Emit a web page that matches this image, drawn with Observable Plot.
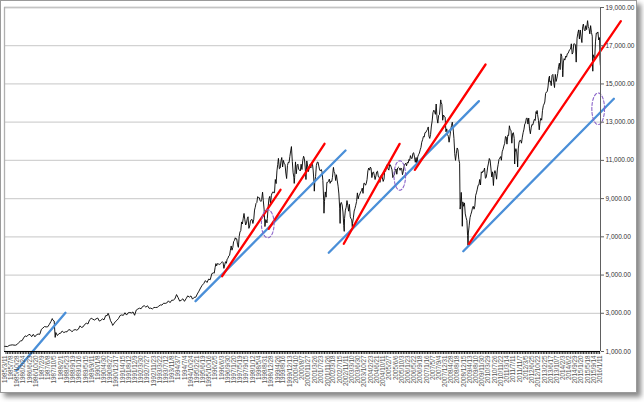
<!DOCTYPE html>
<html><head><meta charset="utf-8">
<script src="https://cdn.jsdelivr.net/npm/d3@7"></script>
<script src="https://cdn.jsdelivr.net/npm/@observablehq/plot@0.6"></script>
<style>
body{margin:0;background:#fff;}
#frame{position:absolute;left:0;top:0;width:635px;height:391px;border:1px solid #9a9a9a;box-shadow:4px 4px 5px #888;background:#fff;}
#chart{position:absolute;left:0;top:0;}
</style></head><body><div id="frame"></div><div id="chart"></div>
<script>
// Month-end closes, starting March 1985
const closes1985to1994 = [
1267,1258,1315,1336,1348,1334,1329,1374,1472,1547,
1571,1709,1819,1784,1877,1893,1775,1898,1768,1878,1914,1896,
2158,2224,2305,2286,2292,2419,2572,2663,2596,1994,1834,1939,
1958,2072,1988,2032,2031,2142,2129,2032,2112,2149,2115,2169,
2342,2258,2293,2419,2480,2440,2661,2737,2693,2645,2706,2753,
2591,2627,2707,2657,2877,2881,2905,2614,2453,2442,2560,2634,
2736,2882,2914,2888,3028,2907,3025,3044,3017,3069,2895,3169,
3224,3267,3236,3359,3397,3319,3394,3257,3272,3226,3305,3301,
3310,3371,3435,3428,3527,3516,3540,3651,3555,3681,3684,3754,
3978,3832,3636,3682,3758,3625,3765,3913,3843,3908,3739,3834];
const closes1995to2004 = [
3843,4011,4158,4321,4465,4556,4709,4611,4789,4756,5075,5117,
5395,5486,5588,5569,5643,5655,5529,5616,5882,6029,6522,6448,
6813,6878,6584,7009,7331,7673,8223,7622,7945,7443,7823,7908,
7907,8546,8800,9063,8900,8952,8883,7539,7843,8592,9117,9181,
9359,9307,9786,10789,10560,10971,10655,10829,10337,10729,10878,11497,
10941,10128,10922,10734,10522,10448,10522,11215,10651,10971,10415,10787,
10887,10495,9879,10735,10912,10502,10523,9950,8848,9075,9852,10021,
9920,10106,10404,9946,9925,9243,8737,8664,7592,8397,8896,8342,
8054,7891,7992,8480,8850,8985,9234,9416,9275,9801,9782,10454,
10488,10583,10358,10226,10188,10435,10140,10174,10080,10027,10428,10783];
const closes2005to2015 = [
10490,10766,10504,10193,10467,10275,10641,10482,10569,10440,10806,10718,
10865,10993,11109,11367,11168,11150,11186,11381,11679,12081,12222,12463,
12622,12269,12354,13063,13628,13409,13212,13358,13896,13930,13372,13265,
12650,12266,12263,12820,12638,11350,11378,11544,10851,9325,8829,8776,
8001,7063,7609,8168,8500,8447,9172,9496,9712,9713,10345,10428,
10067,10325,10857,11009,10137,9774,10466,10015,10788,11118,11006,11578,
11892,12226,12320,12811,12570,12414,12143,11614,10913,11955,12046,12218,
12633,12952,13212,13214,12393,12880,13009,13091,13437,13096,13026,13104,
13861,14054,14579,14840,15116,14910,15500,14810,15130,15546,16086,16577,
15699,16322,16458,16581,16717,16827,16563,17098,17043,17391,17828,17823,
17165,18133,17776,17841,18011,17620,17690,16528,16285,17664,17720,17425];
// Mid-month values (around the 15th), starting January 1996; null = none
const mid1996to2005 = [
5100,5600,5600,5550,5600,5700,5350,5700,5840,6000,6300,6300,
6750,6950,6900,6450,7250,7780,7950,7900,7700,8050,7570,7900,
7700,8400,8750,9100,9050,8850,null,8450,7900,7950,9000,8700,
9300,9300,10000,10450,null,10600,11150,11000,10800,10050,10900,11200,
null,10350,10100,10300,10800,10500,10800,11000,11100,10000,10700,10600,
10600,10800,9900,10150,10900,10700,10450,10400,8920,9350,9850,9900,
9800,9900,10550,10300,10250,9650,8500,8800,8300,7950,8550,8650,
8700,7950,7700,8350,8650,9300,9150,9350,9550,9800,9700,10000,
10600,10650,10100,10400,10000,10400,10150,9850,10250,9900,10550,10700,
10550,10800,10650,10100,10250,10550,10600,10600,10600,10250,10700,10850];
const mid2006to2015 = [
10900,11050,11250,11100,11400,10900,10800,11300,11550,11950,12250,12450,
12550,12750,12150,12800,13500,13550,13950,12950,13400,14050,13100,13300,
12500,12350,11950,12600,13000,12150,11000,11650,11050,8600,8500,8600,
8200,7850,7200,8000,8300,8600,8600,9300,9700,10000,10400,10450,
10600,10100,10650,11100,10600,10400,10300,10300,10550,11050,11200,11450,
11750,12250,11850,12300,12600,11900,12450,11400,11450,11600,12050,11900,
12450,12900,13200,12900,12650,12700,12850,13150,13550,13400,12600,13200,
13600,13950,14500,14600,15300,15150,15450,15100,15500,15300,15900,15750,
16450,16150,16250,16400,16600,16800,17100,16650,17100,null,17650,17350,
17450,18000,17850,18050,18250,17900,18050,17500,16400,17200,17650,17300];
// Intramonth highs / lows
const extremes = [
["1985-03-08",1269],["1987-08-25",2722],["1987-10-19",1739],["1990-07-16",2999],["1990-10-11",2365],
["1998-07-17",9338],["1998-10-08",7731],["1999-05-13",11107],["2000-01-14",11723],["2000-03-07",9796],
["2001-03-22",9389],["2001-09-21",8236],["2002-03-19",10635],["2002-07-23",7702],["2002-10-09",7286],
["2003-03-11",7524],["2007-10-09",14165],["2008-10-10",8451],["2008-11-20",7552],["2009-03-09",6547],
["2010-07-02",9686],["2011-08-08",10810],["2011-10-03",10655],["2012-10-05",13610],["2013-05-28",15410],
["2014-02-03",15373],["2014-10-15",16141],["2015-05-19",18312],["2015-08-25",15666],
["2016-01-08",16346],["2016-01-15",15988]];

const blueLines = [
  ["1985-10-16",6,"1988-05-01",3025],
  ["1995-01-26",3633,"2002-11-02",11518],
  ["2001-12-20",6165,"2009-10-01",14100],
  ["2008-12-09",6249,"2016-09-27",14224]];
const redLines = [
  ["1996-06-13",4941,"1999-06-21",9462],
  ["1998-11-10",7421,"2001-10-01",11869],
  ["2002-10-01",6636,"2005-08-22",11866],
  ["2006-06-06",10507,"2010-02-03",16018],
  ["2009-03-25",6636,"2017-02-06",18286]];
// dashed ellipses: centre date, centre value, half-width (days), half-height (value)
const ellipses = [
  ["1998-10-23",7683,120,733],
  ["2005-08-25",10210,110,770],
  ["2015-12-05",13700,120,827]];

const tickLabels = ["1985/3/11","1985/7/8","1985/10/28","1986/2/24","1986/6/23","1986/10/20","1987/2/9","1987/6/8","1987/10/5","1988/2/1","1988/5/23","1988/9/19","1989/1/16","1989/5/15","1989/9/11","1990/1/8","1990/4/30","1990/8/27","1990/12/17","1991/4/15","1991/8/12","1991/12/9","1992/3/30","1992/7/27","1992/11/23","1993/3/22","1993/7/12","1993/11/8","1994/3/7","1994/7/4","1994/10/24","1995/2/21","1995/6/19","1995/10/16","1996/2/5","1996/6/3","1996/9/30","1997/1/20","1997/5/19","1997/9/15","1998/1/12","1998/5/4","1998/8/31","1998/12/28","1999/4/26","1999/8/16","1999/12/13","2000/4/10","2000/8/7","2000/11/27","2001/3/26","2001/7/23","2001/11/26","2002/3/18","2002/7/15","2002/11/11","2003/3/10","2003/6/30","2003/10/27","2004/2/23","2004/6/21","2004/10/11","2005/2/7","2005/6/6","2005/10/3","2006/1/23","2006/5/22","2006/9/18","2007/1/16","2007/5/7","2007/9/4","2007/12/31","2008/4/28","2008/8/18","2008/12/15","2009/4/13","2009/8/10","2009/11/30","2010/3/29","2010/7/26","2010/11/22","2011/3/14","2011/7/11","2011/11/7","2012/3/5","2012/6/25","2012/10/22","2013/2/25","2013/6/17","2013/10/7","2014/2/3","2014/6/2","2014/9/29","2015/1/20","2015/5/18","2015/9/14","2016/1/11"];
const yTicks = [1000,3000,5000,7000,9000,11000,13000,15000,17000,19000];

// ---- build tables ----
const monthly = [...closes1985to1994, ...closes1995to2004, ...closes2005to2015];
const series = monthly.map((v, i) => ({date: d3.utcDay.offset(d3.utcMonth.offset(new Date(Date.UTC(1985, 3, 1)), i), -1), value: v}));
[...mid1996to2005, ...mid2006to2015].forEach((v, i) => {
  if (v != null) series.push({date: d3.utcDay.offset(d3.utcMonth.offset(new Date(Date.UTC(1996, 0, 1)), i), 14), value: v});
});
for (const [d, v] of extremes) series.push({date: new Date(d), value: v});
series.sort((a, b) => a.date - b.date);

const segs = (arr, id0) => arr.flatMap(([d1, v1, d2, v2], i) => [
  {id: id0 + i, date: new Date(d1), value: v1}, {id: id0 + i, date: new Date(d2), value: v2}]);
const blueData = segs(blueLines, 0), redData = segs(redLines, 100);
const ellData = ellipses.flatMap(([c, v, rx, ry], k) => d3.range(0, 65).map(j => {
  const t = j / 64 * 2 * Math.PI;
  return {id: k, date: d3.utcHour.offset(new Date(c), Math.round(rx * 24 * Math.cos(t))), value: v + ry * Math.sin(t)};
}));
const parseLabel = s => { const [y, m, d] = s.split("/").map(Number); return new Date(Date.UTC(y, m - 1, d)); };
const labelDates = tickLabels.map(parseLabel);
const fmtLabel = d => `${d.getUTCFullYear()}/${d.getUTCMonth() + 1}/${d.getUTCDate()}`;
const xDomain = [new Date("1985-03-04"), new Date("2016-01-18")];
const monthTicks = d3.utcMonth.range(xDomain[0], xDomain[1]);

const chart = Plot.plot({
  width: 644, height: 395,
  marginLeft: 4, marginRight: 44, marginTop: 7, marginBottom: 44,
  style: {fontFamily: "'Liberation Sans', Arial, sans-serif", background: "transparent", overflow: "visible"},
  x: {type: "utc", domain: xDomain, label: null},
  y: {domain: [1000, 19000], label: null},
  marks: [
    Plot.gridY(yTicks, {stroke: "#d2d2d2", strokeOpacity: 1, strokeWidth: 1.3}),
    Plot.ruleY([19000], {stroke: "#c4c4c4", strokeWidth: 1.3}),
    Plot.ruleX([xDomain[0]], {stroke: "#b0b0b0", strokeWidth: 1.3}),
    Plot.line(series, {x: "date", y: "value", stroke: "#000", strokeWidth: 0.9}),
    Plot.line(blueData, {x: "date", y: "value", z: "id", stroke: "#4a8fd8", strokeWidth: 2.3}),
    Plot.line(redData, {x: "date", y: "value", z: "id", stroke: "#ff0000", strokeWidth: 2.3}),
    Plot.line(ellData, {x: "date", y: "value", z: "id", stroke: "#8a63c9", strokeWidth: 1.1, strokeDasharray: "3,2"}),
    Plot.ruleX([xDomain[1]], {stroke: "#606060", strokeWidth: 1}),
    Plot.axisY(yTicks, {anchor: "right", label: null, tickFormat: d3.format(",.2f"), tickSize: 3, tickPadding: 2, fontSize: 6.5, fill: "#333", stroke: "#606060"}),
    Plot.axisX(monthTicks, {label: null, tickSize: 3, tickFormat: () => "", stroke: "#000", strokeWidth: 0.8}),
    Plot.ruleY([1000], {stroke: "#000", strokeWidth: 1}),
    Plot.axisX(labelDates, {label: null, tickSize: 0, tickPadding: 4, tickRotate: -90, tickFormat: fmtLabel, fontSize: 6.3, fill: "#555"})
  ]
});
document.getElementById("chart").append(chart);
</script></body></html>
